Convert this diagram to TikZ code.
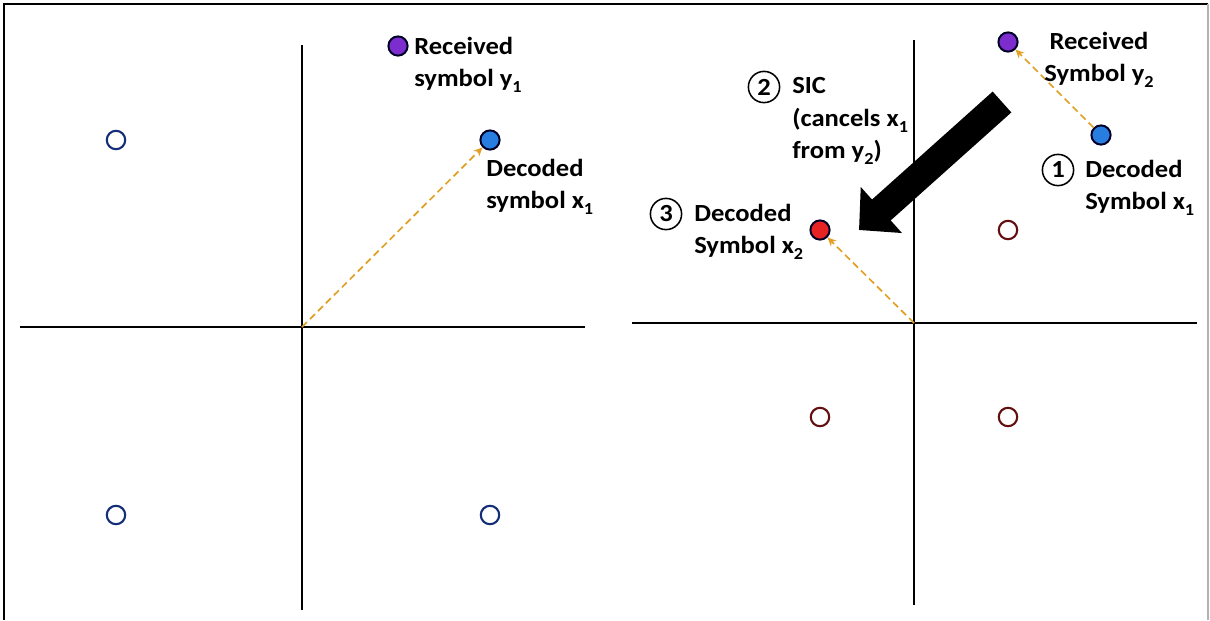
\documentclass[tikz,border=0pt]{standalone}
\usepackage{fontspec}
\setmainfont{Carlito}[FakeStretch=1.08]
\usetikzlibrary{arrows.meta}
\definecolor{dotblue}{RGB}{40,125,225}
\definecolor{dotpurple}{RGB}{125,45,205}
\definecolor{dotred}{RGB}{230,35,35}
\definecolor{ringnavy}{RGB}{20,45,120}
\definecolor{ringred}{RGB}{100,15,15}
\definecolor{dashorange}{RGB}{225,160,35}
\newcommand{\lowidx}[1]{\raisebox{-0.5ex}{\fontsize{12}{12}\selectfont #1}}
\tikzset{
  dot/.style={circle, draw=black!85!blue, line width=1.4pt, minimum size=0.48cm, inner sep=0pt},
  ring/.style={circle, draw=#1, line width=1.5pt, minimum size=0.46cm, inner sep=0pt},
  axis/.style={line width=1.4pt},
  guess/.style={dashorange, line width=1.2pt, dash pattern=on 5pt off 3pt, -{Stealth[length=2.2mm,width=2mm]}},
  lbl/.style={align=left, anchor=west, inner sep=0pt, font=\bfseries\fontsize{17.5}{23}\selectfont},
  stepnum/.style={circle, draw, line width=1.1pt, minimum size=0.78cm, inner sep=0pt, font=\bfseries\fontsize{17.5}{23}\selectfont}
}
\begin{document}
\begin{tikzpicture}[x=0.025cm, y=-0.025cm]
    \useasboundingbox (0,0) rectangle (1210,620);
    % Draw the frame
    \draw[line width=2pt] (4,620) -- (4,4) -- (1208,4);
    \draw[black!30, line width=0.8pt] (1208,4) -- (1208,620);
    % Left constellation: axes
    \draw[axis] (302,45) -- (302,610);
    \draw[axis] (20,327) -- (585,327);
    \coordinate (origL) at (302,327);
    % Left constellation: points
    \node[ring=ringnavy] (sL2) at (116,140) {};
    \node[ring=ringnavy] (sL3) at (116,515) {};
    \node[ring=ringnavy] (sL4) at (490,515) {};
    \node[dot, fill=dotblue] (x1L) at (490,140) {};
    \node[dot, fill=dotpurple] (y1L) at (398,46) {};
    \draw[guess] (origL) -- (x1L);
    % Left constellation: labels
    \node[lbl] (recvL) at (414,65) {Received\\symbol y\lowidx{1}};
    \node[lbl] (decL) at (486,187) {Decoded\\symbol x\lowidx{1}};
    % Right constellation: axes
    \draw[axis] (914,40) -- (914,605);
    \draw[axis] (632,323) -- (1197,323);
    \coordinate (origR) at (914,323);
    % Right constellation: points
    \node[ring=ringred] (sR2) at (1008,230) {};
    \node[ring=ringred] (sR3) at (820,417) {};
    \node[ring=ringred] (sR4) at (1008,417) {};
    \node[dot, fill=dotpurple] (y2R) at (1008,42) {};
    \node[dot, fill=dotblue] (x1R) at (1101,135) {};
    \node[dot, fill=dotred] (x2R) at (820,230) {};
    \draw[guess] (x1R) -- (y2R);
    \draw[guess] (origR) -- (x2R);
    % Right constellation: labels and steps
    \node[lbl, align=center, anchor=center] (recvR) at (1099,60) {Received\\Symbol y\lowidx{2}};
    \node[stepnum] (num1) at (1058,170) {1};
    \node[lbl] (decR1) at (1085,188) {Decoded\\Symbol x\lowidx{1}};
    \node[stepnum] (num2) at (764,87) {2};
    \node[lbl] (sic) at (792,121) {SIC\\(cancels x\lowidx{1}\\from y\lowidx{2})};
    \node[stepnum] (num3) at (666,214) {3};
    \node[lbl] (decR3) at (694,232) {Decoded\\Symbol x\lowidx{2}};
    % Draw the SIC arrow
    \coordinate (sicfrom) at (1002,102);
    \coordinate (sicto) at (859,230);
    \draw[line width=7mm, -{Triangle[length=7.5mm,width=15mm]}] (sicfrom) -- (sicto);
\end{tikzpicture}
\end{document}
